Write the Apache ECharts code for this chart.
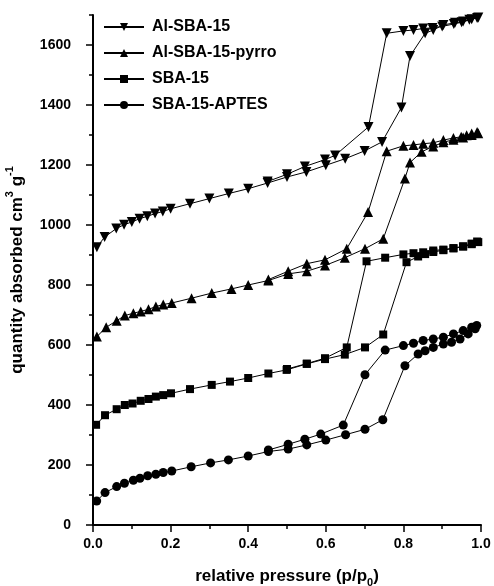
<!DOCTYPE html>
<html>
<head>
<meta charset="utf-8">
<title>Isotherms</title>
<script src="https://cdn.jsdelivr.net/npm/echarts@6/dist/echarts.min.js"></script>
<style>
  html, body { margin: 0; padding: 0; background: #fff; }
  #chart { width: 494px; height: 586px; }
</style>
</head>
<body>
<div id="chart"></div>
<script>
// N2 isotherms: adsorption branch then desorption branch, in measurement order
const seriesNames = ["Al-SBA-15", "Al-SBA-15-pyrro", "SBA-15", "SBA-15-APTES"];

const alP = [0.01, 0.03, 0.06, 0.08, 0.10, 0.12, 0.14, 0.16, 0.18, 0.20, 0.25, 0.30, 0.35, 0.40, 0.45, 0.50, 0.55, 0.60, 0.65, 0.70, 0.745, 0.795, 0.817, 0.856, 0.877, 0.903, 0.933, 0.954, 0.976, 0.993,
  0.99, 0.97, 0.95, 0.93, 0.90, 0.875, 0.851, 0.826, 0.80, 0.757, 0.71, 0.624, 0.598, 0.546, 0.50, 0.45];
const alV = [926, 960, 988, 1001, 1010, 1021, 1029, 1038, 1045, 1054, 1071, 1088, 1105, 1121, 1140, 1160, 1177, 1199, 1221, 1247, 1277, 1392, 1563, 1639, 1650, 1667, 1674, 1678, 1686, 1692,
  1690, 1684, 1676, 1670, 1662, 1657, 1655, 1650, 1647, 1639, 1327, 1232, 1218, 1195, 1169, 1145];

const pyP = [0.01, 0.034, 0.061, 0.082, 0.104, 0.123, 0.143, 0.162, 0.181, 0.203, 0.254, 0.306, 0.357, 0.40, 0.452, 0.503, 0.551, 0.598, 0.649, 0.701, 0.748, 0.804, 0.817, 0.847, 0.877, 0.903, 0.929, 0.954, 0.976, 0.993,
  0.99, 0.976, 0.963, 0.949, 0.929, 0.903, 0.877, 0.851, 0.826, 0.80, 0.757, 0.709, 0.654, 0.598, 0.551, 0.503, 0.452];
const pyV = [628, 659, 681, 698, 706, 712, 719, 728, 735, 740, 756, 773, 787, 800, 815, 837, 846, 865, 891, 921, 954, 1155, 1208, 1244, 1262, 1276, 1284, 1292, 1300, 1306,
  1310, 1305, 1299, 1294, 1290, 1283, 1274, 1271, 1267, 1264, 1246, 1043, 921, 884, 871, 846, 818];

const sbP = [0.008, 0.031, 0.061, 0.082, 0.102, 0.123, 0.143, 0.162, 0.181, 0.201, 0.25, 0.306, 0.353, 0.40, 0.452, 0.499, 0.551, 0.598, 0.649, 0.701, 0.748, 0.808, 0.838, 0.856, 0.877, 0.903, 0.929, 0.954, 0.976, 0.993,
  0.99, 0.976, 0.954, 0.929, 0.903, 0.877, 0.851, 0.826, 0.80, 0.753, 0.705, 0.654, 0.598, 0.551, 0.50];
const sbV = [334, 366, 386, 400, 405, 414, 420, 428, 433, 439, 453, 467, 478, 490, 505, 517, 537, 553, 568, 592, 635, 876, 895, 903, 910, 916, 922, 928, 936, 943,
  945, 938, 929, 923, 918, 915, 909, 906, 902, 891, 879, 592, 556, 538, 520];

const apP = [0.0095, 0.031, 0.061, 0.081, 0.104, 0.121, 0.141, 0.162, 0.181, 0.203, 0.253, 0.303, 0.349, 0.40, 0.452, 0.503, 0.551, 0.60, 0.651, 0.701, 0.747, 0.804, 0.838, 0.856, 0.877, 0.903, 0.924, 0.946, 0.967, 0.985,
  0.989, 0.976, 0.954, 0.929, 0.903, 0.877, 0.851, 0.826, 0.80, 0.753, 0.701, 0.645, 0.587, 0.546, 0.503, 0.452];
const apV = [80, 108, 128, 139, 149, 156, 164, 169, 175, 180, 194, 207, 217, 230, 245, 253, 267, 283, 301, 319, 351, 531, 570, 581, 592, 603, 609, 620, 637, 654,
  665, 659, 648, 637, 626, 620, 615, 606, 598, 583, 501, 333, 303, 286, 269, 250];

const xTicks = [0, 0.2, 0.4, 0.6, 0.8, 1.0];
const yTicks = [0, 200, 400, 600, 800, 1000, 1200, 1400, 1600];

const font = '"Liberation Sans", Arial, sans-serif';
const zip = (xs, ys) => xs.map((x, i) => [x, ys[i]]);

const makeSeries = (name, xs, ys, symbol, size, rotate) => ({
  name: name,
  type: "line",
  data: zip(xs, ys),
  symbol: symbol,
  symbolSize: size,
  symbolRotate: rotate || 0,
  showAllSymbol: true,
  lineStyle: { color: "#000", width: 1 },
  itemStyle: { color: "#000", borderWidth: 0 },
  emphasis: { disabled: true },
  animation: false,
});

const chart = echarts.init(document.getElementById("chart"));

chart.setOption({
  animation: false,
  textStyle: { fontFamily: font },
  grid: { left: 93, right: 13, top: 15, bottom: 61, outerBoundsMode: "none", containLabel: false },
  legend: {
    orient: "vertical",
    left: 98,
    top: 14,
    itemWidth: 40,
    itemHeight: 10,
    itemGap: 10,
    data: seriesNames,
    textStyle: { fontFamily: font, fontSize: 16, fontWeight: "bold", color: "#000", padding: [0, 0, 0, 3] },
  },
  xAxis: {
    type: "value",
    min: 0,
    max: 1,
    interval: 0.2,
    name: "relative pressure (p/p{sub|0})",
    nameLocation: "middle",
    nameGap: 39,
    nameTextStyle: {
      fontFamily: font, fontSize: 17, fontWeight: "bold", color: "#000", lineHeight: 24,
      rich: {
        sub: { fontFamily: font, fontSize: 11, fontWeight: "bold", color: "#000", verticalAlign: "bottom" },
      },
    },
    axisLine: { lineStyle: { color: "#000", width: 2 } },
    axisTick: { length: 7, lineStyle: { color: "#000", width: 1.5 } },
    minorTick: { show: true, splitNumber: 2, length: 4, lineStyle: { color: "#000", width: 1.5 } },
    axisLabel: {
      margin: 12, color: "#000", fontSize: 14, fontWeight: "bold", fontFamily: font,
      formatter: (v) => v.toFixed(1),
    },
    splitLine: { show: false },
  },
  yAxis: [
    {
      type: "value",
      min: 0,
      max: 1700,
      interval: 200,
      name: "quantity absorbed cm{sup|3} g{sup|-1}",
      nameLocation: "middle",
      nameGap: 52,
      nameTextStyle: {
        fontFamily: font, fontSize: 17, fontWeight: "bold", color: "#000", lineHeight: 24,
        rich: {
          sup: { fontFamily: font, fontSize: 11, fontWeight: "bold", color: "#000", verticalAlign: "top" },
        },
      },
      axisLine: { show: true, lineStyle: { color: "#000", width: 2 } },
      axisTick: { show: true, length: 7, customValues: yTicks, lineStyle: { color: "#000", width: 1.5 } },
      axisLabel: {
        margin: 22, color: "#000", fontSize: 14, fontWeight: "bold", fontFamily: font,
        customValues: yTicks,
        formatter: (v) => String(v),
      },
      splitLine: { show: false },
    },
    {
      type: "value",
      position: "left",
      offset: 0,
      min: 0,
      max: 1700,
      interval: 100,
      axisLine: { show: false },
      axisTick: { show: true, length: 4, lineStyle: { color: "#000", width: 1.5 } },
      axisLabel: { show: false },
      splitLine: { show: false },
    },
  ],
  series: [
    makeSeries(seriesNames[0], alP, alV, "triangle", 10, 180),
    makeSeries(seriesNames[1], pyP, pyV, "triangle", 10),
    makeSeries(seriesNames[2], sbP, sbV, "rect", 8),
    makeSeries(seriesNames[3], apP, apV, "circle", 9),
  ],
});
</script>
</body>
</html>
